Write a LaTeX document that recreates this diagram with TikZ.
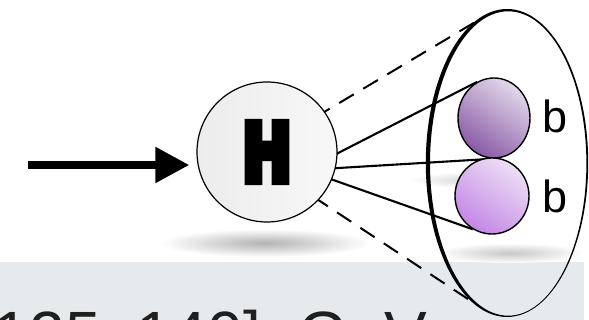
\documentclass[tikz,border=0pt]{standalone}
\usepackage{fontspec}
\usepackage{graphicx}
\setmainfont{Liberation Sans}
\newfontfamily\heavyfont[FakeBold=12]{DejaVu Sans}
\usetikzlibrary{arrows.meta,shapes.geometric}

\definecolor{bandgray}{HTML}{E6EAEC}
\definecolor{hfillA}{HTML}{ECECEC}
\definecolor{hfillB}{HTML}{F8F8F8}
\definecolor{quarkDark}{HTML}{8A5AA6}
\definecolor{quarkLight}{HTML}{E2D8EA}
\definecolor{quarkBright}{HTML}{C386E6}
\definecolor{quarkPale}{HTML}{EEDFF5}

\pgfdeclarelayer{back}
\pgfdeclarelayer{wires}
\pgfsetlayers{back,wires,main}

\tikzset{
  higgs/.style={circle, draw, line width=1.2pt, minimum size=140pt, inner sep=0pt,
    left color=hfillA, right color=hfillB},
  quark/.style={ellipse, draw, line width=1.4pt, inner sep=0pt,
    minimum width=72pt, minimum height=80pt},
  jetcone/.style={ellipse, inner sep=0pt, minimum width=160pt, minimum height=306pt},
  solidwire/.style={line width=2.1pt},
  dashwire/.style={line width=2pt, dash pattern=on 17pt off 11pt},
  flavour/.style={anchor=base west, inner sep=0pt, font=\fontsize{45}{50}\selectfont},
  glow/.style={inner color=#1, outer color=white},
}

\begin{document}
\begin{tikzpicture}[x=1pt,y=1pt]
\useasboundingbox (0,0) rectangle (589,320);
\clip (0,0) rectangle (589,320);

% decay vertex and the two b quarks inside the jet cone
\node[higgs] (H) at (267,168)
  {\fontsize{78}{80}\selectfont\scalebox{0.74}[1]{\heavyfont\bfseries H}};
\node[jetcone] (E) at (507,157) {};
% jet cone outline: a brush-like stroke, heavier on the left
\fill[black, even odd rule]
  (E.center) ellipse (81.2 and 154)
  ([shift={(1.2pt,-0.5pt)}]E.center) ellipse (78.2 and 152.2);
\node[quark, top color=quarkLight, bottom color=quarkDark, shading angle=-35] (ub) at (494,202) {};
\node[quark, top color=quarkPale, bottom color=quarkBright, shading angle=-35,
      minimum width=74pt, minimum height=76pt] (lb) at (492,124) {};

\node[flavour] (tb) at (542,187) {b};
\node[flavour] (bb) at (542,107) {b};

% mass window, partly outside the frame
\node[anchor=base west, inner sep=0pt, font=\fontsize{64}{70}\selectfont, text=black!88]
  (range) at (-24,-37) {[125, 140]\hspace{20pt} GeV};

% incoming arrow
\coordinate (src) at (28,155);
\draw[line width=8pt, -{Triangle[length=34pt,width=34pt]}, shorten >=7pt]
  (src) -- (src -| H.west);

% connectors, hidden behind the vertex disc
\begin{pgfonlayer}{wires}
  \draw[solidwire] ([shift={(38pt,-18pt)}]H.center) -- (ub.115);
  \draw[solidwire] ([shift={(38pt,-18pt)}]H.center) -- (ub.south);
  \draw[solidwire] ([shift={(38pt,-18pt)}]H.center) -- (lb.240);
  \draw[dashwire] ([yshift=6pt]H.center) -- (E.102);
  \draw[dashwire] ([yshift=-14pt]H.center) -- (E.258);
\end{pgfonlayer}

% background band and soft shadows
\begin{pgfonlayer}{back}
  \fill[white] (0,0) rectangle (589,320);
  \fill[bandgray] (0,0) rectangle (584,58);
  \shade[glow=black!30] (265,77) ellipse (105 and 14);
  \shade[glow=black!16] (470,140) ellipse (60 and 8);
  \shade[glow=black!22] (510,67) ellipse (75 and 10);
\end{pgfonlayer}
\end{tikzpicture}
\end{document}
